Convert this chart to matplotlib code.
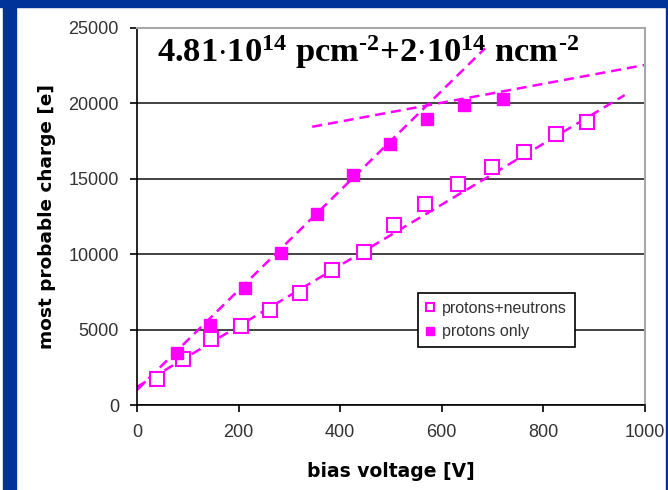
import numpy as np
import matplotlib as mpl
import matplotlib.pyplot as plt
from matplotlib.patches import Rectangle

# measured points
v_pn = [40, 91, 145, 205, 262, 321, 383, 447, 506, 567, 632, 699, 762, 824, 886]
q_pn = [1720, 3030, 4360, 5260, 6300, 7450, 8950, 10170, 11940, 13310, 14650, 15800, 16800, 18000, 18790]

v_p = [79, 144, 213, 283, 355, 426, 498, 570, 644, 720]
q_p = [3430, 5300, 7740, 10060, 12650, 15250, 17310, 18970, 19890, 20290]

# straight-line fits (end points)
fit_pn = ([0, 960], [1200, 20550])
fit_p_low = ([0, 685], [1000, 23650])
fit_p_high = ([345, 1000], [18450, 22550])

magenta = '#ff00ff'
navy = '#003399'

plt.rcParams['font.family'] = ['Liberation Sans', 'DejaVu Sans']
mpl.rcParams['mathtext.fontset'] = 'custom'
mpl.rcParams['mathtext.rm'] = 'Liberation Serif:bold'
mpl.rcParams['mathtext.it'] = 'Liberation Serif:bold'
mpl.rcParams['mathtext.bf'] = 'Liberation Serif:bold'
mpl.rcParams['mathtext.default'] = 'rm'

fig = plt.figure(figsize=(6.68, 4.9), dpi=100)
ax = fig.add_axes([137/668, 1-405/490, (645-137)/668, (405-28)/490])

# blue slide frame
fig.patches.append(Rectangle((0, 1-7/490), 1, 7/490, transform=fig.transFigure,
                             color=navy, zorder=0))
fig.patches.append(Rectangle((3/668, 0), 13/668, 1, transform=fig.transFigure,
                             color=navy, zorder=0))
fig.patches.append(Rectangle((666/668, 0), 2/668, 1, transform=fig.transFigure,
                             color=navy, zorder=0))

dash = dict(color=magenta, lw=1.8, ls=(0, (4, 2.4)), zorder=2)
ax.plot(*fit_pn, **dash)
ax.plot(*fit_p_low, **dash)
ax.plot(*fit_p_high, **dash)

ax.plot(v_pn, q_pn, ls='none', marker='s', ms=10.5, mfc='white', mec=magenta,
        mew=1.5, label='protons+neutrons', zorder=3)
ax.plot(v_p, q_p, ls='none', marker='s', ms=9, mfc=magenta, mec=magenta,
        label='protons only', zorder=3)

ax.set_xlim(0, 1000)
ax.set_ylim(0, 25000)
ax.set_xticks(np.arange(0, 1001, 200))
ax.set_yticks(np.arange(0, 25001, 5000))
ax.yaxis.grid(True, color='#222222', lw=1.2)
ax.set_axisbelow(True)

for s in ['top', 'right']:
    ax.spines[s].set_color('#a8a8a8')
    ax.spines[s].set_linewidth(1.5)
for s in ['left', 'bottom']:
    ax.spines[s].set_color('black')
    ax.spines[s].set_linewidth(1.2)

ax.tick_params(direction='out', length=5, width=1.2, colors='black',
               labelcolor='#333333', labelsize=13)
ax.tick_params(axis='y', pad=8)
ax.tick_params(axis='x', pad=9)

ax.set_xlabel('bias voltage [V]', fontsize=13.5, fontweight='bold',
              family='DejaVu Sans', labelpad=15)
ax.set_ylabel('most probable charge [e]', fontsize=13.3, fontweight='bold',
              family='DejaVu Sans', labelpad=9)

ax.text(0.04, 0.91, r'4.81$\cdot$10$^{14}$ pcm$^{\text{-2}}$+2$\cdot$10$^{14}$ ncm$^{\text{-2}}$',
        transform=ax.transAxes, fontsize=24.8, fontweight='bold',
        family='Liberation Serif', va='baseline', ha='left')

leg = ax.legend(loc='upper left', bbox_to_anchor=(0.554, 0.298), fontsize=11.5,
                frameon=True, fancybox=False, edgecolor='black', framealpha=1,
                markerscale=0.6, handlelength=0.5, handletextpad=0.5,
                borderpad=0.5, labelspacing=0.55, borderaxespad=0)
leg.get_frame().set_linewidth(1.2)
for t in leg.get_texts():
    t.set_color('#333333')

fig.savefig('out.png', dpi=100)
